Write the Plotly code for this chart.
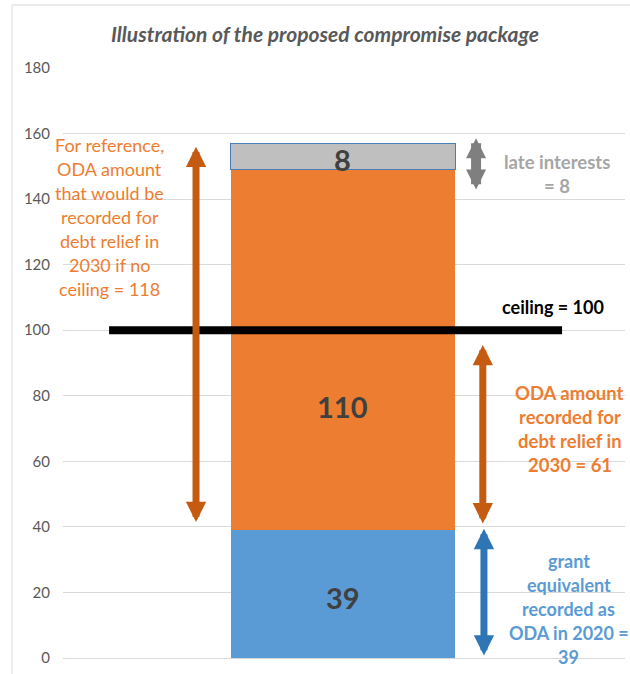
import plotly.graph_objects as go

# ---- data ----
segment_names = ["grant equivalent 2020", "debt relief 2030", "late interests"]
segment_values = [39, 110, 8]
segment_colors = ["#5B9BD5", "#ED7D31", "#BFBFBF"]
ceiling_value = 100
y_ticks = [0, 20, 40, 60, 80, 100, 120, 140, 160, 180]

# arrow spans (value units): (top, bottom)
arrow_reference = (156, 41)      # "if no ceiling" arrow (left)
arrow_oda_2030 = (95.5, 40.6)    # recorded ODA for debt relief
arrow_grant = (39.4, 0.3)        # grant equivalent
arrow_late = (158.6, 142.5)      # late interests

left_note = ["For reference,", "ODA amount", "that would be", "recorded for",
             "debt relief in", "2030 if no", "ceiling = 118"]
late_note = ["late interests", "= 8"]
oda_note = ["ODA amount", "recorded for", "debt relief in", "2030 = 61"]
grant_note = ["grant", "equivalent", "recorded as", "ODA in 2020 =", "39"]

FONT = "Lato"
BAR_X = 0.498
BAR_W = 0.399
LINE_STEP = 7.32  # 24 px in value units

fig = go.Figure()

for name, val, col in zip(segment_names, segment_values, segment_colors):
    line = dict(width=1, color="#4A7EBB") if name == "late interests" else dict(width=0)
    fig.add_trace(go.Bar(x=[BAR_X], y=[val], width=[BAR_W], name=name,
                         marker=dict(color=col, line=line), hoverinfo="skip"))

# ceiling line
fig.add_trace(go.Scatter(x=[0.082, 0.888], y=[ceiling_value, ceiling_value], mode="lines",
                         line=dict(color="black", width=8), hoverinfo="skip"))

annotations = []

# bar labels
label_y = [18.6, 76.6, 152.2]
for val, ly in zip(segment_values, label_y):
    annotations.append(dict(x=BAR_X, y=ly, xref="x", yref="y", text=f"<b>{val}</b>",
                            xanchor="center", yanchor="middle",
                            showarrow=False, font=dict(family=FONT, size=29, color="#404040")))


def arrow(xpos, span, color, width, size):
    top, bottom = span
    return dict(x=xpos, y=top, ax=xpos, ay=bottom, xref="x", yref="y", axref="x", ayref="y",
                text="", showarrow=True, arrowhead=2, startarrowhead=2, arrowside="end+start",
                arrowsize=size, startarrowsize=size, arrowwidth=width, arrowcolor=color,
                standoff=0, startstandoff=0)


annotations.append(arrow(0.2367, arrow_reference, "#C55A11", 7, 0.58))
annotations.append(arrow(0.747, arrow_oda_2030, "#C55A11", 7, 0.58))
annotations.append(arrow(0.749, arrow_grant, "#2E75B6", 7, 0.58))
annotations.append(arrow(0.735, arrow_late, "#7F7F7F", 10, 0.4))


def note(lines, xc, y_first, size, color, bold):
    for i, t in enumerate(lines):
        annotations.append(dict(x=xc, y=y_first - i * LINE_STEP, xref="x", yref="y",
                                showarrow=False, xanchor="center", yanchor="middle",
                                text=f"<b>{t}</b>" if bold else t,
                                font=dict(family=FONT, size=size, color=color)))


note(left_note, 0.0836, 156.5, 18, "#ED7D31", False)
note(late_note, 0.879, 151.3, 18.5, "#A6A6A6", True)
note(oda_note, 0.902, 80.8, 18.5, "#ED7D31", True)
note(grant_note, 0.9, 29.6, 18, "#5B9BD5", True)
annotations.append(dict(x=0.872, y=107.1, xref="x", yref="y", showarrow=False,
                        xanchor="center", yanchor="middle",
                        text=f"<b>ceiling = {ceiling_value}</b>",
                        font=dict(family=FONT, size=18, color="black")))

shapes = [
    dict(type="line", xref="paper", yref="paper", x0=-0.0907, x1=-0.0907, y0=1.1068, y1=-0.06,
         line=dict(color="#D9D9D9", width=1)),
    dict(type="line", xref="paper", yref="paper", x0=-0.0907, x1=1.1, y0=1.1068, y1=1.1068,
         line=dict(color="#D9D9D9", width=1)),
]

fig.update_layout(
    width=630, height=674,
    margin=dict(l=63, r=5, t=68, b=16),
    paper_bgcolor="white", plot_bgcolor="white",
    barmode="stack", showlegend=False,
    title=dict(text="<b><i>Illustration of the proposed compromise package</i></b>",
               x=0.516, xref="container", xanchor="center",
               y=1 - 35 / 674, yref="container", yanchor="middle",
               font=dict(family=FONT, size=21, color="#595959")),
    xaxis=dict(range=[0, 1], showgrid=False, zeroline=False, showticklabels=False, fixedrange=True),
    yaxis=dict(range=[0, 180], tickvals=y_ticks, showgrid=True, gridcolor="#D9D9D9", gridwidth=1,
               zeroline=True, zerolinecolor="#D9D9D9", zerolinewidth=1, showline=False,
               ticks="", ticklabelstandoff=12,
               tickfont=dict(family=FONT, size=15, color="#595959")),
    annotations=annotations,
    shapes=shapes,
)

fig.write_html("out.html", config={"displayModeBar": False},
               post_script="document.body.style.margin='0';")
